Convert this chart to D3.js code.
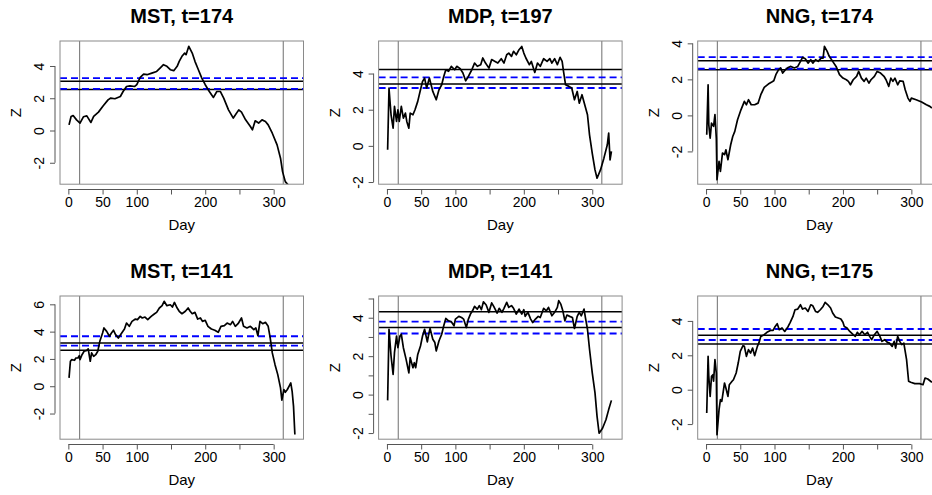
<!DOCTYPE html>
<html><head><meta charset="utf-8">
<script src="https://cdn.jsdelivr.net/npm/d3@7"></script>
<style>body{margin:0;background:#fff}svg{display:block}text{font-family:"Liberation Sans",Arial,Helvetica,sans-serif;fill:#000}</style>
</head><body><svg id="c" width="932" height="495"></svg>
<script>
const titles = ["MST, t=174", "MDP, t=197", "NNG, t=174", "MST, t=141", "MDP, t=141", "NNG, t=175"];
const xTicks = [0, 50, 100, 150, 200, 250, 300];
const xTickLabels = ["0", "50", "100", "", "200", "", "300"];
const xDomain = [-12.2, 343.6];
const vLines = [16.5, 314];

const mst174 = [[1,0.35],[4,0.87],[7,0.93],[12,0.66],[17,0.46],[22,0.85],[27,0.91],[29,0.77],[33,0.50],[37,0.87],[44,1.14],[51,1.53],[58,1.90],[62,2.01],[68,1.97],[76,2.11],[80,2.42],[85,2.73],[90,2.77],[97,2.73],[100,2.84],[105,3.29],[110,3.50],[115,3.46],[122,3.56],[129,3.66],[134,3.87],[139,4.08],[144,3.98],[149,3.77],[154,3.71],[159,3.98],[162,4.29],[166,4.60],[170,4.80],[172,4.70],[176,5.22],[181,4.80],[185,4.29],[190,3.77],[195,3.25],[200,2.84],[206,2.42],[212,2.05],[217,2.42],[222,2.42],[227,2.01],[234,1.28],[241,0.77],[249,1.28],[253,1.14],[259,0.66],[266,0.25],[269,0.04],[273,0.60],[278,0.46],[283,0.66],[288,0.56],[292,0.35],[298,-0.17],[305,-0.89],[310,-1.72],[313,-2.55],[317,-3.17],[321,-3.37],[325,-4.0]];
const mdp197 = [[1,-0.22],[3,3.19],[6,1.72],[9,0.98],[11,2.18],[14,1.35],[16,1.99],[18,1.35],[21,2.18],[24,1.53],[27,1.81],[29,1.35],[32,0.98],[34,1.81],[38,1.72],[41,2.00],[45,2.46],[49,3.10],[52,3.56],[55,3.75],[58,3.20],[62,3.75],[67,3.01],[72,2.55],[76,3.10],[80,3.38],[83,3.84],[86,4.21],[90,4.12],[94,4.40],[99,4.21],[102,4.40],[107,4.27],[111,4.03],[115,3.60],[119,3.84],[124,4.21],[128,4.58],[132,4.40],[137,4.49],[140,4.86],[144,4.58],[149,4.30],[153,4.77],[158,4.67],[162,4.58],[167,4.82],[171,4.58],[175,5.04],[178,5.13],[182,4.95],[185,5.23],[189,5.04],[193,5.32],[197,5.50],[200,5.13],[203,4.86],[208,4.49],[211,4.67],[216,4.06],[220,4.58],[224,4.40],[229,4.82],[234,4.67],[238,4.82],[241,4.58],[245,4.82],[249,4.49],[253,4.90],[256,4.67],[258,4.12],[261,3.38],[266,3.29],[270,3.20],[274,2.55],[278,3.01],[281,2.36],[285,2.83],[289,2.27],[293,1.72],[296,0.61],[300,-0.41],[304,-1.33],[307,-1.79],[312,-1.33],[317,-0.68],[322,0.06],[324,0.71],[326,-0.78],[328,-0.31]];
const nng174 = [[1,-1.07],[3,1.70],[4,-0.52],[6,-1.26],[8,-0.43],[11,-0.61],[13,0.04],[15,-1.26],[16,-3.57],[19,-2.55],[21,-3.11],[24,-2.09],[27,-2.18],[29,-1.91],[32,-2.46],[36,-1.63],[39,-1.17],[42,-0.89],[46,-0.24],[51,0.31],[56,0.78],[59,0.59],[62,0.87],[66,0.59],[71,0.59],[76,0.68],[80,1.15],[85,1.55],[91,1.74],[96,1.85],[99,1.92],[102,2.26],[106,2.54],[109,2.63],[112,2.35],[116,2.54],[120,2.66],[124,2.72],[129,2.63],[134,2.72],[138,3.00],[141,3.22],[145,3.15],[149,2.90],[153,3.09],[156,2.90],[160,3.09],[164,3.00],[168,3.18],[171,3.18],[173,3.83],[177,3.55],[180,3.28],[185,3.00],[190,2.72],[195,2.26],[200,2.07],[205,1.98],[208,1.89],[211,1.70],[215,1.98],[220,2.17],[223,2.44],[227,2.07],[231,1.89],[234,2.07],[238,1.79],[241,1.98],[246,2.17],[250,2.44],[255,2.35],[260,2.17],[263,1.98],[267,1.61],[270,2.07],[273,1.89],[276,2.07],[280,1.70],[283,1.92],[288,1.89],[291,1.42],[295,0.96],[298,0.78],[300,0.96],[307,0.87],[315,0.74],[322,0.59],[327,0.50],[330,0.41]];
const mst141 = [[1,0.61],[3,1.83],[5,1.95],[9,1.90],[11,2.07],[14,2.07],[16,2.24],[17,1.95],[20,2.31],[23,2.56],[27,2.63],[29,2.73],[32,1.83],[34,2.44],[37,2.19],[40,2.31],[43,2.56],[46,3.29],[50,3.90],[52,4.27],[56,4.02],[60,3.66],[63,3.90],[66,4.10],[69,3.78],[73,3.53],[78,3.90],[82,4.19],[85,4.63],[89,4.39],[93,4.75],[98,4.92],[101,4.88],[105,5.12],[108,5.00],[112,5.07],[116,4.88],[121,5.12],[126,5.31],[129,5.41],[133,5.73],[137,5.90],[140,6.22],[144,5.90],[149,5.97],[152,5.80],[155,6.14],[159,5.73],[162,5.49],[166,5.31],[171,5.49],[175,5.73],[178,5.49],[181,5.31],[185,5.41],[189,4.92],[193,5.00],[196,4.75],[200,4.83],[204,4.39],[209,4.19],[214,4.10],[219,3.95],[223,4.39],[228,4.44],[232,4.63],[237,4.51],[240,4.75],[244,4.39],[248,4.58],[253,5.00],[256,4.39],[261,4.27],[266,4.39],[271,4.14],[274,4.27],[277,3.70],[280,4.75],[284,4.58],[288,4.68],[292,4.39],[295,3.53],[298,2.44],[302,1.58],[306,0.85],[310,-0.12],[312,-1.02],[315,-0.24],[317,-0.44],[320,-0.24],[323,0.05],[325,0.24],[327,-0.37],[329,-1.46],[331,-3.54]];
const mdp141 = [[1,-0.30],[3,3.40],[6,2.01],[9,1.05],[11,2.18],[14,3.05],[16,2.44],[19,3.05],[21,3.14],[24,2.44],[28,1.83],[32,1.13],[34,1.92],[38,1.40],[40,1.66],[42,1.40],[45,2.09],[49,2.53],[52,3.05],[55,3.40],[59,2.74],[61,3.14],[63,3.44],[67,2.88],[70,2.71],[72,2.27],[76,2.79],[80,3.14],[83,3.58],[86,3.96],[90,3.84],[94,3.79],[98,3.58],[100,3.93],[105,4.07],[109,4.01],[112,3.93],[116,3.49],[119,3.93],[122,4.19],[125,4.36],[128,4.59],[132,4.45],[135,4.63],[138,4.42],[141,4.83],[145,4.66],[149,4.28],[153,4.77],[156,4.59],[161,4.24],[164,4.49],[168,4.28],[171,4.49],[175,4.80],[178,4.54],[182,4.63],[185,4.49],[189,4.19],[193,4.45],[197,4.19],[200,4.42],[202,4.07],[206,4.28],[210,3.93],[213,3.75],[217,3.93],[221,4.07],[224,4.01],[229,4.49],[233,4.36],[236,4.54],[239,4.28],[241,4.10],[245,4.28],[249,4.54],[251,4.89],[254,4.71],[257,4.36],[260,3.84],[263,4.14],[267,4.07],[271,4.01],[274,3.44],[278,4.07],[281,4.28],[284,4.10],[288,4.45],[290,4.01],[293,3.40],[296,2.36],[300,1.13],[304,0.09],[307,-1.13],[310,-2.01],[315,-1.75],[320,-1.31],[324,-0.78],[328,-0.30]];
const nng175 = [[1,-1.36],[3,1.94],[4,0.78],[6,-0.39],[8,0.78],[10,0.87],[11,0.49],[13,1.75],[15,0.97],[16,-2.62],[19,-1.16],[21,-0.58],[23,-0.68],[27,0.39],[29,0.10],[32,-0.39],[34,0.29],[38,0.49],[40,0.58],[44,0.97],[47,1.55],[50,2.23],[54,2.56],[56,2.52],[59,1.94],[62,2.33],[65,2.13],[68,2.42],[71,1.98],[75,2.52],[78,2.81],[80,3.10],[85,3.20],[89,3.34],[94,3.45],[98,3.45],[101,3.68],[104,3.84],[107,3.49],[111,3.59],[115,3.39],[120,3.68],[123,3.92],[127,4.26],[130,4.65],[134,4.69],[138,4.94],[141,4.69],[145,4.75],[149,4.55],[153,4.94],[156,4.88],[160,4.55],[163,4.50],[167,4.65],[171,4.84],[174,5.08],[178,4.94],[182,4.75],[185,4.46],[189,4.23],[193,4.17],[197,4.11],[200,3.92],[202,3.68],[206,3.59],[210,3.39],[215,3.20],[218,3.10],[221,3.34],[224,3.20],[228,3.39],[232,3.20],[236,3.34],[239,3.10],[242,2.91],[246,3.20],[250,3.39],[254,3.10],[257,2.81],[261,2.91],[265,2.75],[268,2.71],[272,2.52],[275,2.81],[277,2.42],[280,3.10],[283,2.81],[286,2.62],[289,2.71],[293,1.75],[296,0.49],[299,0.43],[305,0.35],[312,0.35],[317,0.29],[320,0.68],[324,0.62],[330,0.43]];

const series = [mst174, mdp197, nng174, mst141, mdp141, nng175];
const yDomains = [[-3.33, 5.55], [-2.12, 5.8], [-3.82, 4.13], [-3.88, 6.61], [-2.32, 5.13], [-2.88, 5.45]];
const yTicks = [[-2, 0, 2, 4], [-2, 0, 2, 4], [-2, 0, 2, 4], [-2, 0, 2, 4, 6], [-2, -1, 0, 1, 2, 3, 4, 5], [-2, 0, 2, 4]];
const blackLines = [[3.06, 2.55], [4.23, 3.42], [3.04, 2.53], [3.17, 2.63], [4.31, 3.49], [3.16, 2.66]];
const blueLines = [[3.25, 2.58], [3.79, 3.20], [3.23, 2.59], [3.66, 2.97], [3.80, 3.18], [3.53, 2.89]];

const colLeft = [60, 378.6, 697.7];
const rowTop = [41, 296];
const pw = 243.5, ph = 143.2;

const svg = d3.select("#c");
const defs = svg.append("defs");

series.forEach((data, i) => {
  const r = Math.floor(i / 3), c = i % 3;
  const L = colLeft[c], T = rowTop[r];
  const x = d3.scaleLinear().domain(xDomain).range([L, L + pw]);
  const y = d3.scaleLinear().domain(yDomains[i]).range([T + ph, T]);
  const g = svg.append("g");
  const cid = "clip" + i;
  defs.append("clipPath").attr("id", cid).append("rect")
    .attr("x", L).attr("y", T).attr("width", pw).attr("height", ph);
  const pg = g.append("g").attr("clip-path", `url(#${cid})`);

  vLines.forEach(v => {
    pg.append("line").attr("x1", x(v)).attr("x2", x(v)).attr("y1", T).attr("y2", T + ph)
      .attr("stroke", "#6e6e6e").attr("stroke-width", 1);
  });
  blackLines[i].forEach(v => {
    pg.append("line").attr("x1", L).attr("x2", L + pw).attr("y1", y(v)).attr("y2", y(v))
      .attr("stroke", "#000").attr("stroke-width", 1.5);
  });
  blueLines[i].forEach(v => {
    pg.append("line").attr("x1", L).attr("x2", L + pw).attr("y1", y(v)).attr("y2", y(v))
      .attr("stroke", "#0000ff").attr("stroke-width", 1.8).attr("stroke-dasharray", "7,4");
  });
  pg.append("path").datum(data)
    .attr("d", d3.line().x(d => x(d[0])).y(d => y(d[1])))
    .attr("fill", "none").attr("stroke", "#000").attr("stroke-width", 1.7)
    .attr("stroke-linejoin", "round");

  g.append("rect").attr("x", L).attr("y", T).attr("width", pw).attr("height", ph)
    .attr("fill", "none").attr("stroke", "#8a8a8a").attr("stroke-width", 1);

  const xa = g.append("g").attr("transform", `translate(0,${T + ph + 5.3})`)
    .call(d3.axisBottom(x).tickValues(xTicks).tickSize(5).tickPadding(3)
      .tickFormat((d, k) => xTickLabels[k]));
  xa.select(".domain").attr("stroke", "#555").attr("d", `M${x(0)},0H${x(300)}`);
  xa.selectAll(".tick line").attr("stroke", "#555");
  xa.selectAll(".tick text").attr("font-size", 14).attr("fill", "#000").attr("font-family", null);

  const yt = yTicks[i];
  const ya = g.append("g").attr("transform", `translate(${L - 5},0)`)
    .call(d3.axisLeft(y).tickValues(yt).tickSize(5).tickFormat(d => (d % 2 === 0 ? String(d) : "")));
  ya.select(".domain").attr("stroke", "#555")
    .attr("d", `M0,${y(d3.min(yt))}V${y(d3.max(yt))}`);
  ya.selectAll(".tick line").attr("stroke", "#555");
  ya.selectAll(".tick text").attr("font-size", 14).attr("fill", "#000").attr("font-family", null)
    .attr("x", null).attr("dy", null)
    .attr("transform", "translate(-11,0) rotate(-90)")
    .attr("text-anchor", "middle");

  g.append("text").attr("x", L + pw / 2).attr("y", T - 18.3).attr("text-anchor", "middle")
    .attr("font-weight", "bold").attr("font-size", 20).text(titles[i]);
  g.append("text").attr("x", L + pw / 2).attr("y", T + ph + 46).attr("text-anchor", "middle")
    .attr("font-size", 15).text("Day");
  g.append("text").attr("transform", `translate(${L - 39},${T + ph / 2}) rotate(-90)`)
    .attr("text-anchor", "middle").attr("font-size", 15).text("Z");
});
</script></body></html>
